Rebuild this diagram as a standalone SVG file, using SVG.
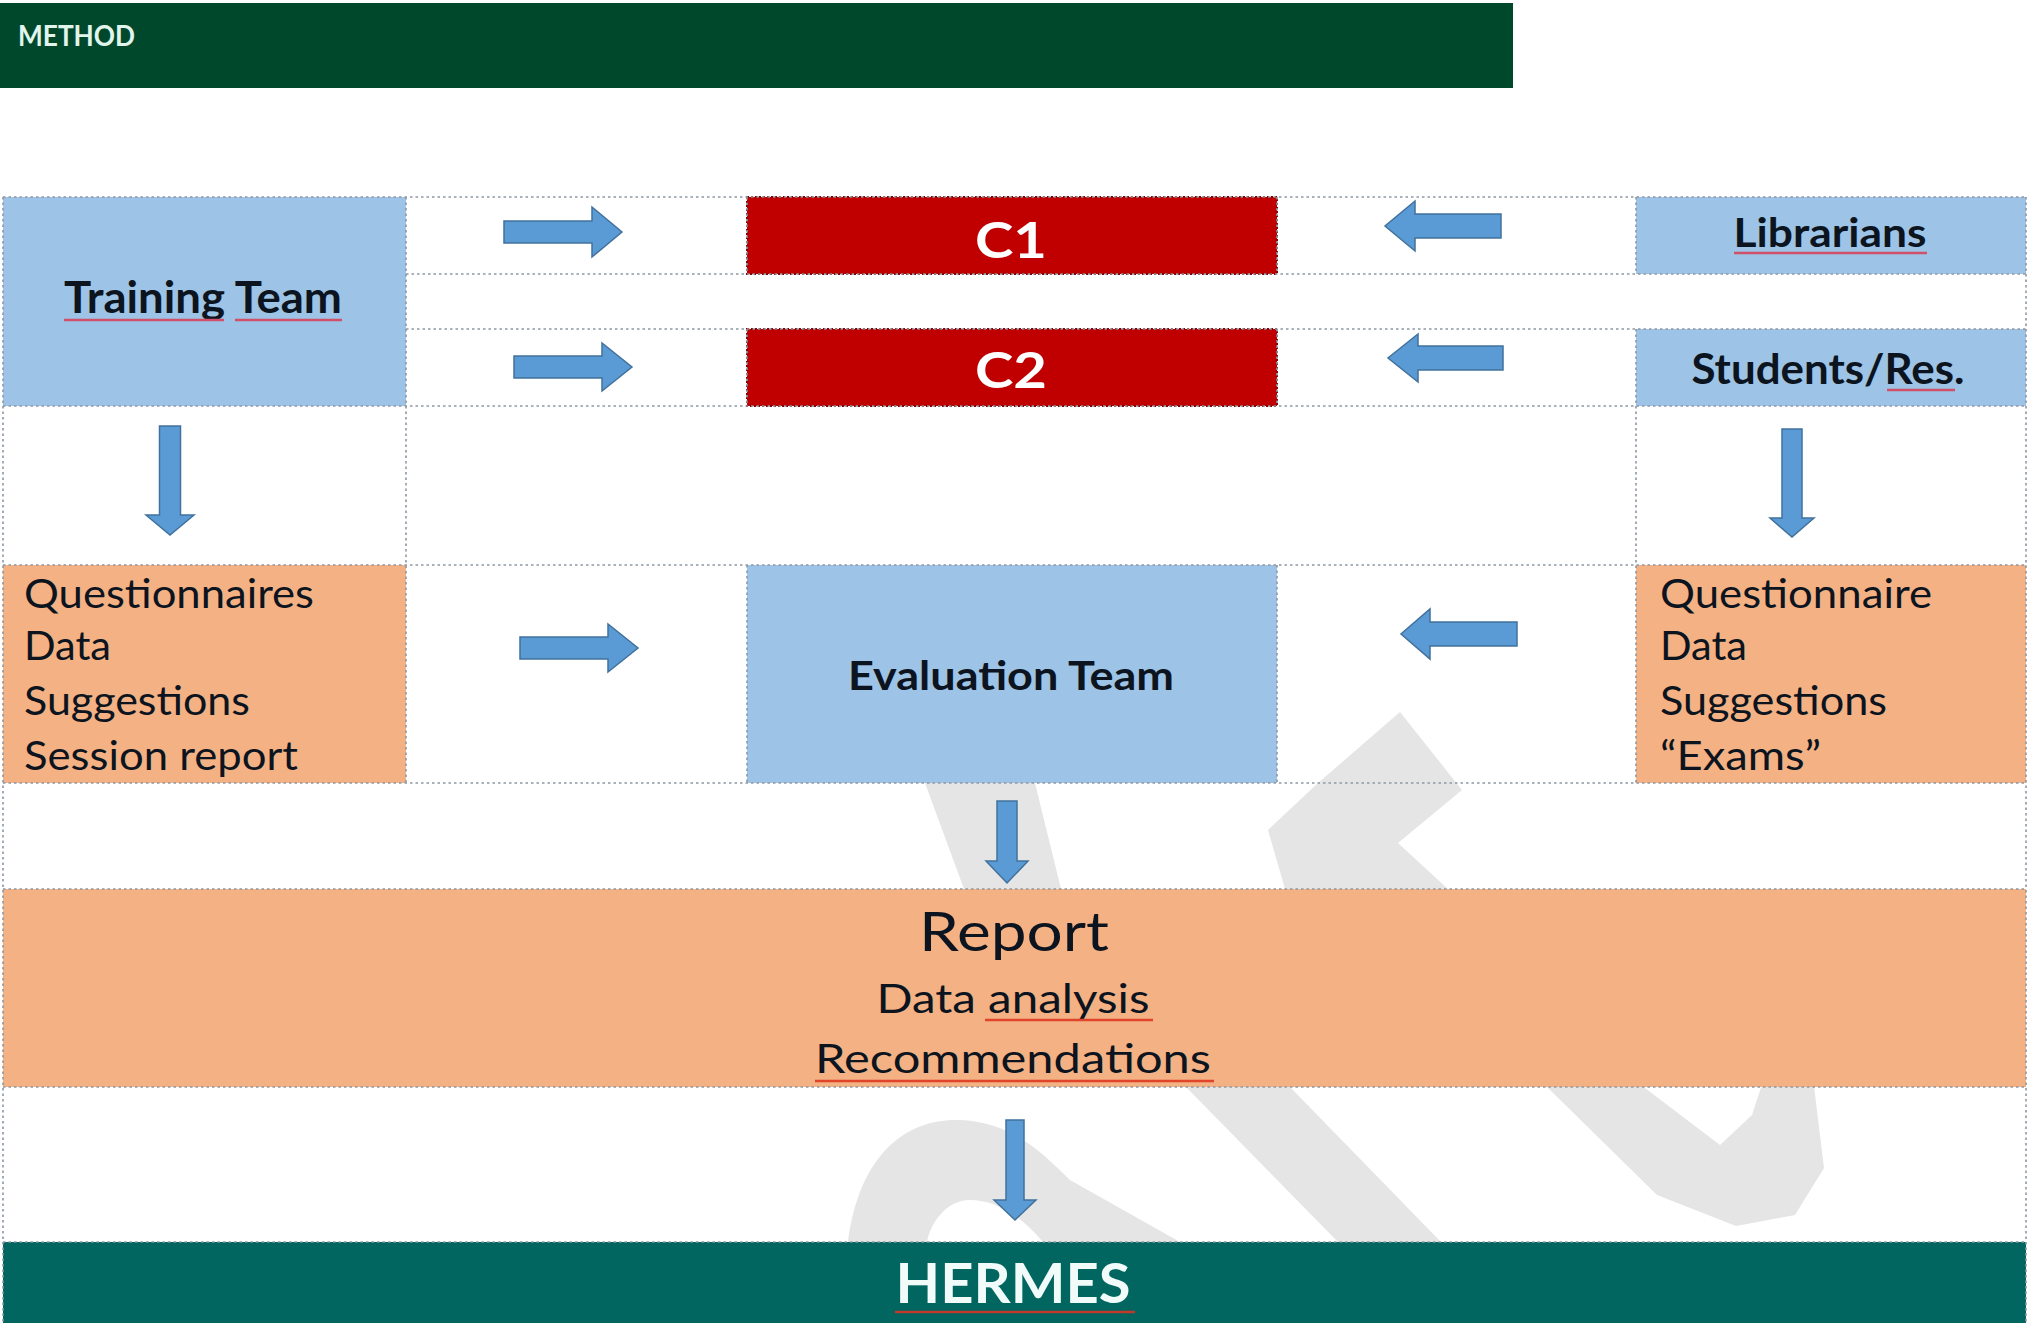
<svg xmlns="http://www.w3.org/2000/svg" width="2029" height="1323" viewBox="0 0 2029 1323">
<style>
.t{font-family:Lato,"Liberation Sans",sans-serif;fill:#0c1420}
.b{font-weight:bold}
.w{fill:#ffffff}
.blue{fill:#9dc3e6}
.org{fill:#f4b183}
.red{fill:#c00000;stroke:#8e0000;stroke-width:2;stroke-dasharray:2 2}
.grid{stroke:#8d98a4;stroke-width:1.6;stroke-dasharray:2.5 3;fill:none}
.arr{fill:#5b9bd5;stroke:#41719c;stroke-width:1.5}
.sq{stroke:#d0506a;stroke-width:2.5;fill:none}
.sq2{stroke:#e0452c;stroke-width:2.5;fill:none}
.wm{fill:#e5e5e5}
</style>
<rect x="0" y="0" width="2029" height="1323" fill="#ffffff"/>

<g id="header">
<rect x="0" y="3" width="1513" height="85" fill="#00482b"/>
<text class="t b" x="18" y="46" font-size="28" textLength="117" lengthAdjust="spacingAndGlyphs" style="fill:#e2f5ec">METHOD</text>
</g>

<g id="watermark">
<path class="wm" d="M915,700 L1030,700 L1035,783 L1061,889 L1290,1087 L1441,1242 L1338,1242 L1186,1087 L964,889 L925,783 Z"/>
<path class="wm" d="M848,1242 C860,1150 910,1118 960,1120 C1010,1122 1040,1150 1070,1180 L1180,1242 L1043,1242 C1020,1215 995,1200 970,1200 C945,1200 930,1225 927,1242 Z"/>
<path class="wm" d="M1400,712 L1462,790 L1398,843 L1448,889 L1641,1085 L1720,1145 L1752,1115 L1770,1060 L1812,1070 L1824,1168 L1795,1215 L1736,1226 L1657,1195 L1545,1085 L1285,889 L1268,830 L1318,783 Z"/>
</g>

<g id="training-team">
<rect class="blue" x="3" y="197" width="403" height="209"/>
<text class="t b" x="203" y="313" font-size="43" text-anchor="middle" textLength="278" lengthAdjust="spacingAndGlyphs">Training Team</text>
<path class="sq" d="M64,320 H224 M235,320 H342"/>
</g>

<g id="c1">
<rect class="red" x="747" y="197" width="530" height="77"/>
<text class="t b w" x="1011" y="258" font-size="50" text-anchor="middle" textLength="72" lengthAdjust="spacingAndGlyphs">C1</text>
</g>

<g id="c2">
<rect class="red" x="747" y="329" width="530" height="77"/>
<text class="t b w" x="1011" y="388" font-size="50" text-anchor="middle" textLength="72" lengthAdjust="spacingAndGlyphs">C2</text>
</g>

<g id="librarians">
<rect class="blue" x="1636" y="197" width="390" height="77"/>
<text class="t b" x="1830" y="247" font-size="41" text-anchor="middle" textLength="193" lengthAdjust="spacingAndGlyphs">Librarians</text>
<path class="sq" d="M1734,253 H1927"/>
</g>

<g id="students">
<rect class="blue" x="1636" y="329" width="390" height="77"/>
<text class="t b" x="1828" y="384" font-size="42" text-anchor="middle" textLength="273" lengthAdjust="spacingAndGlyphs">Students/Res.</text>
<path class="sq" d="M1887,390 H1955"/>
</g>

<g id="training-outputs">
<rect class="org" x="3" y="565" width="403" height="218"/>
<text class="t" font-size="41">
<tspan x="24" y="608" textLength="290" lengthAdjust="spacingAndGlyphs">Questionnaires</tspan>
<tspan x="24" y="660" textLength="87" lengthAdjust="spacingAndGlyphs">Data</tspan>
<tspan x="24" y="715" textLength="226" lengthAdjust="spacingAndGlyphs">Suggestions</tspan>
<tspan x="24" y="770" textLength="274" lengthAdjust="spacingAndGlyphs">Session report</tspan>
</text>
</g>

<g id="evaluation-team">
<rect class="blue" x="747" y="565" width="530" height="218"/>
<text class="t b" x="1011" y="690" font-size="41" text-anchor="middle" textLength="326" lengthAdjust="spacingAndGlyphs">Evaluation Team</text>
</g>

<g id="student-outputs">
<rect class="org" x="1636" y="565" width="390" height="218"/>
<text class="t" font-size="41">
<tspan x="1660" y="608" textLength="272" lengthAdjust="spacingAndGlyphs">Questionnaire</tspan>
<tspan x="1660" y="660" textLength="87" lengthAdjust="spacingAndGlyphs">Data</tspan>
<tspan x="1660" y="715" textLength="227" lengthAdjust="spacingAndGlyphs">Suggestions</tspan>
<tspan x="1660" y="770" textLength="161" lengthAdjust="spacingAndGlyphs">“Exams”</tspan>
</text>
</g>

<g id="report">
<rect class="org" x="3" y="889" width="2023" height="198"/>
<text class="t" x="1014" y="951" font-size="54" text-anchor="middle" textLength="190" lengthAdjust="spacingAndGlyphs">Report</text>
<text class="t" x="1013" y="1013" font-size="40" text-anchor="middle" textLength="273" lengthAdjust="spacingAndGlyphs">Data analysis</text>
<text class="t" x="1013" y="1073" font-size="41" text-anchor="middle" textLength="396" lengthAdjust="spacingAndGlyphs">Recommendations</text>
<path class="sq2" d="M985,1020 H1153 M815,1081 H1214"/>
</g>

<g id="hermes">
<rect x="3" y="1242" width="2023" height="81" fill="#00665f"/>
<text class="t b w" x="1013" y="1303" font-size="56" text-anchor="middle" textLength="235" lengthAdjust="spacingAndGlyphs" style="fill:#f0fbfa">HERMES</text>
<path d="M895,1312 H1135" stroke="#c0392b" stroke-width="2.5"/>
</g>

<g id="grid">
<path class="grid" d="M3,197 H2026 M406,274 H2026 M406,329 H2026 M3,406 H2026 M3,565 H2026 M3,783 H2026 M3,889 H2026 M3,1087 H2026 M3,1242 H2026"/>
<path class="grid" d="M3,197 V1323 M2026,197 V1323 M406,197 V783 M1636,197 V274 M1636,329 V783 M747,197 V274 M747,329 V406 M747,565 V783 M1277,197 V274 M1277,329 V406 M1277,565 V783"/>
</g>

<g id="connectors">
<path class="arr" d="M504,221 L592,221 L592,207 L622,232 L592,257 L592,243 L504,243 Z"/>
<path class="arr" d="M514,356 L602,356 L602,343 L632,367 L602,391 L602,378 L514,378 Z"/>
<path class="arr" d="M520,637 L608,637 L608,624 L638,648 L608,672 L608,659 L520,659 Z"/>
<path class="arr" d="M1501,214 L1415,214 L1415,201 L1385,226 L1415,251 L1415,238 L1501,238 Z"/>
<path class="arr" d="M1503,346 L1418,346 L1418,334 L1388,358 L1418,382 L1418,370 L1503,370 Z"/>
<path class="arr" d="M1517,622 L1430,622 L1430,609 L1401,634 L1430,659 L1430,646 L1517,646 Z"/>
<path class="arr" d="M159.5,426 L180.5,426 L180.5,515 L194,515 L170,535 L146,515 L159.5,515 Z"/>
<path class="arr" d="M1782,429 L1802,429 L1802,518 L1814,518 L1792,537 L1770,518 L1782,518 Z"/>
<path class="arr" d="M997,801 L1017,801 L1017,861 L1028,861 L1007,883 L986,861 L997,861 Z"/>
<path class="arr" d="M1006,1120 L1024,1120 L1024,1200 L1036,1200 L1015,1220 L994,1200 L1006,1200 Z"/>
</g>
</svg>
